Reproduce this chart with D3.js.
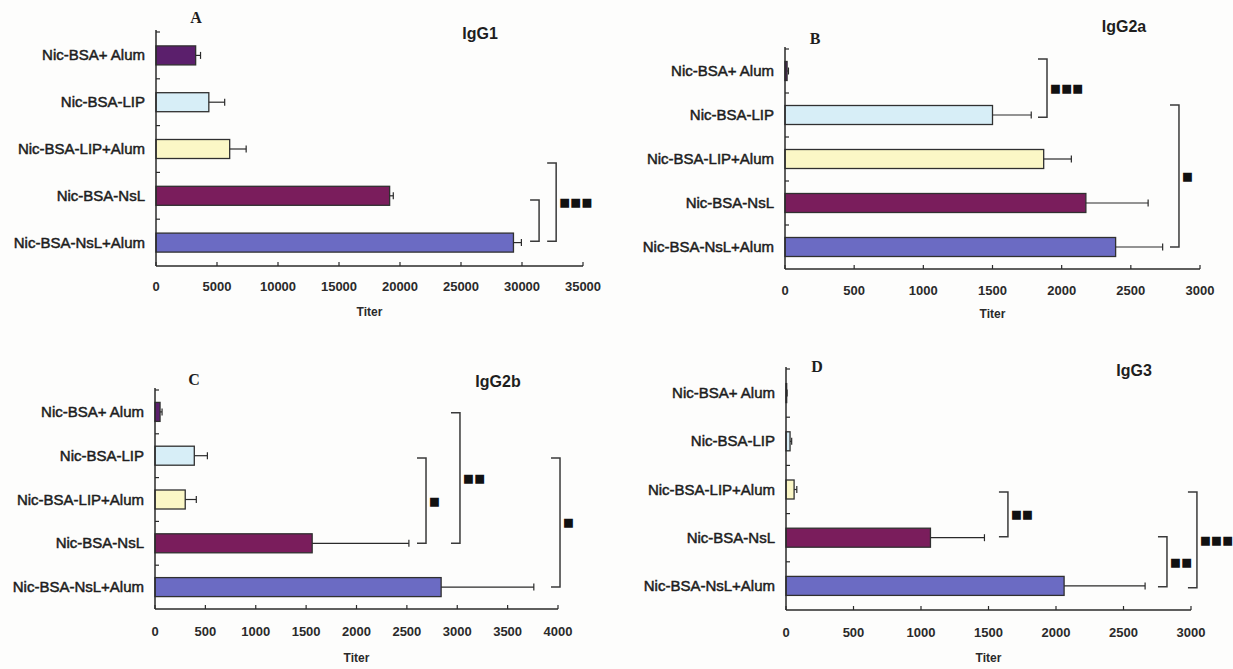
<!DOCTYPE html>
<html>
<head>
<meta charset="utf-8">
<script src="https://cdn.jsdelivr.net/npm/d3@7"></script>
<style>
  html, body { margin: 0; padding: 0; background: #fdfdfc; }
  svg { display: block; }
</style>
</head>
<body>
<svg id="chart" width="1233" height="669"></svg>
<script>
// ---------- DATA ----------
const categories = ["Nic-BSA+ Alum", "Nic-BSA-LIP", "Nic-BSA-LIP+Alum", "Nic-BSA-NsL", "Nic-BSA-NsL+Alum"];
const barColors  = ["#5b1f6c", "#d7eef7", "#fbf7c6", "#7a1d5c", "#6b6bc3"];

const panelLetters = ["A", "B", "C", "D"];
const panelTitles  = ["IgG1", "IgG2a", "IgG2b", "IgG3"];
const axisTitle = "Titer";

const igg1Values  = [3250, 4330, 6040, 19150, 29300];
const igg1Errors  = [400, 1300, 1350, 300, 650];
const igg1Ticks   = [0, 5000, 10000, 15000, 20000, 25000, 30000, 35000];

const igg2aValues = [15, 1500, 1870, 2175, 2390];
const igg2aErrors = [10, 280, 200, 450, 340];
const igg2aTicks  = [0, 500, 1000, 1500, 2000, 2500, 3000];

const igg2bValues = [50, 390, 300, 1560, 2840];
const igg2bErrors = [20, 130, 110, 960, 920];
const igg2bTicks  = [0, 500, 1000, 1500, 2000, 2500, 3000, 3500, 4000];

const igg3Values  = [5, 30, 60, 1070, 2060];
const igg3Errors  = [3, 12, 20, 400, 600];
const igg3Ticks   = [0, 500, 1000, 1500, 2000, 2500, 3000];

// significance brackets: from/to in category-index units, at = titer value, label
const igg1Brackets  = [{from: 3.09, to: 3.97, at: 31400, label: ""},
                       {from: 2.30, to: 3.97, at: 32800, label: "***"}];
const igg2aBrackets = [{from: -0.27, to: 1.05, at: 1894, label: "***"},
                       {from: 0.77, to: 4.00, at: 2848, label: "*"}];
const igg2bBrackets = [{from: 1.05, to: 3.00, at: 2690, label: "*"},
                       {from: 0.02, to: 3.00, at: 3027, label: "**"},
                       {from: 1.05, to: 4.00, at: 4020, label: "*"}];
const igg3Brackets  = [{from: 2.05, to: 2.98, at: 1644, label: "**"},
                       {from: 2.98, to: 4.02, at: 2822, label: "**"},
                       {from: 2.05, to: 4.04, at: 3044, label: "***"}];

// ---------- LAYOUT ----------
const panels = [
  {values: igg1Values, errors: igg1Errors, ticks: igg1Ticks, brackets: igg1Brackets,
   x0: 156, x1: 583, yTop: 32, yBot: 266, tickDy: 25, titerDy: 50,
   title: [480, 39], letter: [196, 23]},
  {values: igg2aValues, errors: igg2aErrors, ticks: igg2aTicks, brackets: igg2aBrackets,
   x0: 785, x1: 1200, yTop: 49, yBot: 269, tickDy: 26, titerDy: 49,
   title: [1124, 32], letter: [815, 44]},
  {values: igg2bValues, errors: igg2bErrors, ticks: igg2bTicks, brackets: igg2bBrackets,
   x0: 155, x1: 558, yTop: 390, yBot: 609, tickDy: 27, titerDy: 53,
   title: [498, 387], letter: [194, 385]},
  {values: igg3Values, errors: igg3Errors, ticks: igg3Ticks, brackets: igg3Brackets,
   x0: 786, x1: 1191, yTop: 369, yBot: 610, tickDy: 27, titerDy: 52,
   title: [1134, 376], letter: [817, 372]}
];

const svg = d3.select("#chart");
const ink = "#2a2a2a";
const sansFont = "'Liberation Sans', Arial, sans-serif";

panels.forEach((p, pi) => {
  const g = svg.append("g");
  const x = d3.scaleLinear().domain([0, p.ticks[p.ticks.length - 1]]).range([p.x0, p.x1]);
  const y = d3.scaleBand().domain(categories).range([p.yTop, p.yBot]);
  const barH = 19;
  const yc = c => y(c) + y.bandwidth() / 2;
  const yi = d3.scaleLinear().domain([0, 4]).range([yc(categories[0]), yc(categories[4])]);

  // bars
  g.selectAll("rect.bar").data(categories).join("rect")
    .attr("x", x(0))
    .attr("y", c => yc(c) - barH / 2)
    .attr("width", (c, i) => Math.max(0.5, x(p.values[i]) - x(0)))
    .attr("height", barH)
    .attr("fill", (c, i) => barColors[i])
    .attr("stroke", "#303030")
    .attr("stroke-width", 1.3);

  // error bars
  const eb = g.selectAll("g.err").data(categories).join("g");
  eb.append("line")
    .attr("x1", (c, i) => x(p.values[i]))
    .attr("x2", (c, i) => x(p.values[i] + p.errors[i]))
    .attr("y1", yc).attr("y2", yc)
    .attr("stroke", ink).attr("stroke-width", 1.2);
  eb.append("line")
    .attr("x1", (c, i) => x(p.values[i] + p.errors[i]))
    .attr("x2", (c, i) => x(p.values[i] + p.errors[i]))
    .attr("y1", c => yc(c) - 3.5).attr("y2", c => yc(c) + 3.5)
    .attr("stroke", ink).attr("stroke-width", 1.2);

  // x axis line + inward ticks
  g.append("line").attr("x1", x(0)).attr("x2", x.range()[1])
    .attr("y1", p.yBot).attr("y2", p.yBot)
    .attr("stroke", ink).attr("stroke-width", 1.5);
  g.selectAll("line.xt").data(p.ticks).join("line")
    .attr("x1", d => x(d)).attr("x2", d => x(d))
    .attr("y1", p.yBot).attr("y2", p.yBot - 4)
    .attr("stroke", ink).attr("stroke-width", 1.2);
  g.selectAll("text.xl").data(p.ticks).join("text")
    .attr("x", d => x(d)).attr("y", p.yBot + p.tickDy)
    .attr("text-anchor", "middle")
    .attr("font-family", sansFont).attr("font-weight", "bold").attr("font-size", 13)
    .attr("fill", ink)
    .text(d => d);

  // y axis line + boundary ticks
  g.append("line").attr("x1", x(0)).attr("x2", x(0))
    .attr("y1", p.yTop - 2).attr("y2", p.yBot)
    .attr("stroke", ink).attr("stroke-width", 1.5);
  g.selectAll("line.yt").data(categories).join("line")
    .attr("x1", x(0)).attr("x2", x(0) + 4)
    .attr("y1", c => y(c)).attr("y2", c => y(c))
    .attr("stroke", ink).attr("stroke-width", 1.2);

  // category labels
  g.selectAll("text.cat").data(categories).join("text")
    .attr("x", x(0) - 11).attr("y", c => yc(c) + 5)
    .attr("text-anchor", "end")
    .attr("font-family", sansFont).attr("font-size", 15)
    .attr("fill", "#1e1e1e").attr("stroke", "#1e1e1e").attr("stroke-width", 0.5)
    .text(c => c);

  // axis title
  g.append("text")
    .attr("x", (x.range()[0] + x.range()[1]) / 2).attr("y", p.yBot + p.titerDy)
    .attr("text-anchor", "middle")
    .attr("font-family", sansFont).attr("font-weight", "bold").attr("font-size", 12)
    .attr("fill", ink).text(axisTitle);

  // panel title & letter
  g.append("text").attr("x", p.title[0]).attr("y", p.title[1])
    .attr("text-anchor", "middle")
    .attr("font-family", sansFont).attr("font-weight", "bold").attr("font-size", 16)
    .attr("fill", "#1e1e1e").text(panelTitles[pi]);
  g.append("text").attr("x", p.letter[0]).attr("y", p.letter[1])
    .attr("text-anchor", "middle")
    .attr("font-family", "'Liberation Serif', 'Times New Roman', serif")
    .attr("font-weight", "bold").attr("font-size", 16)
    .attr("fill", "#1e1e1e").text(panelLetters[pi]);

  // significance brackets
  const br = g.selectAll("g.br").data(p.brackets).join("g");
  br.append("path")
    .attr("d", d => {
      const bx = x(d.at), t = yi(d.from), b = yi(d.to);
      return `M${bx - 9},${t}H${bx}V${b}H${bx - 9}`;
    })
    .attr("fill", "none").attr("stroke", "#3a3a3a").attr("stroke-width", 1.5);
  br.append("text")
    .attr("x", d => x(d.at) + 3)
    .attr("y", d => (yi(d.from) + yi(d.to)) / 2 + 4)
    .attr("font-family", "'DejaVu Sans', sans-serif").attr("font-size", 11.5)
    .attr("letter-spacing", 0.3)
    .attr("fill", "#111")
    .text(d => "■".repeat(d.label.length));
});
</script>
</body>
</html>
